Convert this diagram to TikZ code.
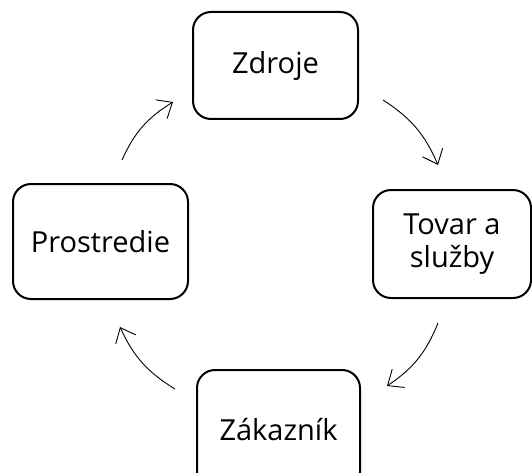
\documentclass[tikz,border=0pt]{standalone}
\usepackage{fontspec}
\setmainfont{Open Sans}
\usetikzlibrary{arrows.meta}
\begin{document}
\begin{tikzpicture}[x=1pt,y=1pt,
  stagebox/.style={draw=black, line width=2pt, rounded corners=18pt, fill=white,
    font=\fontsize{29}{33}\selectfont, align=center, inner sep=0pt},
  flow/.style={line width=0.9pt, -{Straight Barb[length=13pt,width=22pt,line width=0.9pt]}, bend left=17}]
  \useasboundingbox (0,0) rectangle (532,-473);
  \node[stagebox, minimum width=165pt, minimum height=107pt] (zdroje) at (275.5,-65.5) {Zdroje};
  \node[stagebox, minimum width=158pt, minimum height=108pt] (tovar) at (452,-244) {Tovar a\\služby};
  \node[stagebox, minimum width=163pt, minimum height=120pt] (zakaznik) at (278.5,-430) {Zákazník};
  \node[stagebox, minimum width=175pt, minimum height=115pt] (prostredie) at (100.5,-241.5) {Prostredie};
  \coordinate (a1s) at (122,-160); \coordinate (a1e) at (173,-102);
  \coordinate (a2s) at (383,-100); \coordinate (a2e) at (438,-165);
  \coordinate (a3s) at (438,-323); \coordinate (a3e) at (387,-386);
  \coordinate (a4s) at (175,-389); \coordinate (a4e) at (120,-327);
  \draw[flow] (a1s) to (a1e);
  \draw[flow] (a2s) to (a2e);
  \draw[flow] (a3s) to (a3e);
  \draw[flow] (a4s) to (a4e);
\end{tikzpicture}
\end{document}
